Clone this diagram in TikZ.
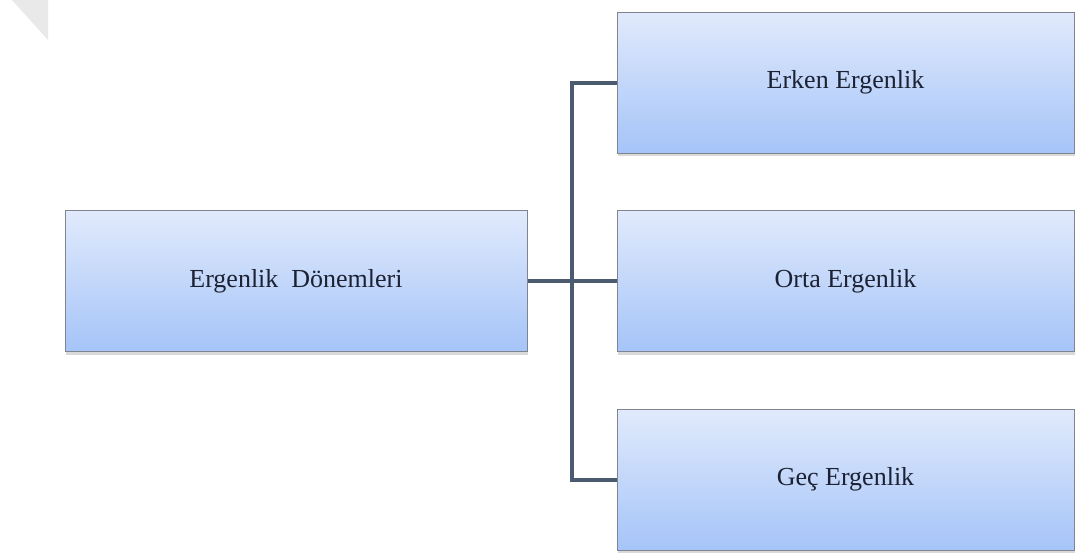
\documentclass[tikz,border=0pt]{standalone}
\usepackage{fontspec}
\setmainfont{Liberation Serif}
\usetikzlibrary{shadows}
\definecolor{boxtop}{HTML}{E1EAFC}
\definecolor{boxbot}{HTML}{A5C4F8}
\definecolor{boxline}{HTML}{7F848E}
\definecolor{linkcol}{HTML}{4A5A6F}
\definecolor{curl}{HTML}{E9E9E9}
\definecolor{labelcol}{HTML}{1C2233}
\tikzset{
  pbox/.style={rectangle, draw=boxline, line width=1pt,
    top color=boxtop, bottom color=boxbot,
    minimum height=141pt, inner sep=0pt,
    font=\fontsize{26}{31}\selectfont, text=labelcol,
    drop shadow={shadow xshift=1pt, shadow yshift=-3pt, opacity=0.3}},
  link/.style={draw=linkcol, line width=4pt}
}

\begin{document}
\begin{tikzpicture}[x=1pt, y=-1pt]
  \useasboundingbox (0,0) rectangle (1076,555);
  % corner mark
  \fill[curl] (12,0) -- (48,0) -- (48,40) -- cycle;
  \node[pbox, minimum width=462pt] (donem) at (296,281) {Ergenlik\ \ Dönemleri};
  \node[pbox, minimum width=457pt] (erken) at (845.5,82.5) {Erken Ergenlik};
  \node[pbox, minimum width=457pt] (orta) at (845.5,281) {Orta Ergenlik};
  \node[pbox, minimum width=457pt] (gec) at (845.5,479.5) {Geç Ergenlik};
  \coordinate (bus) at (572,281);
  \draw[link] (donem.east) -- (orta.west);
  \draw[link] (erken.west) -| (bus) |- (gec.west);
\end{tikzpicture}
\end{document}
